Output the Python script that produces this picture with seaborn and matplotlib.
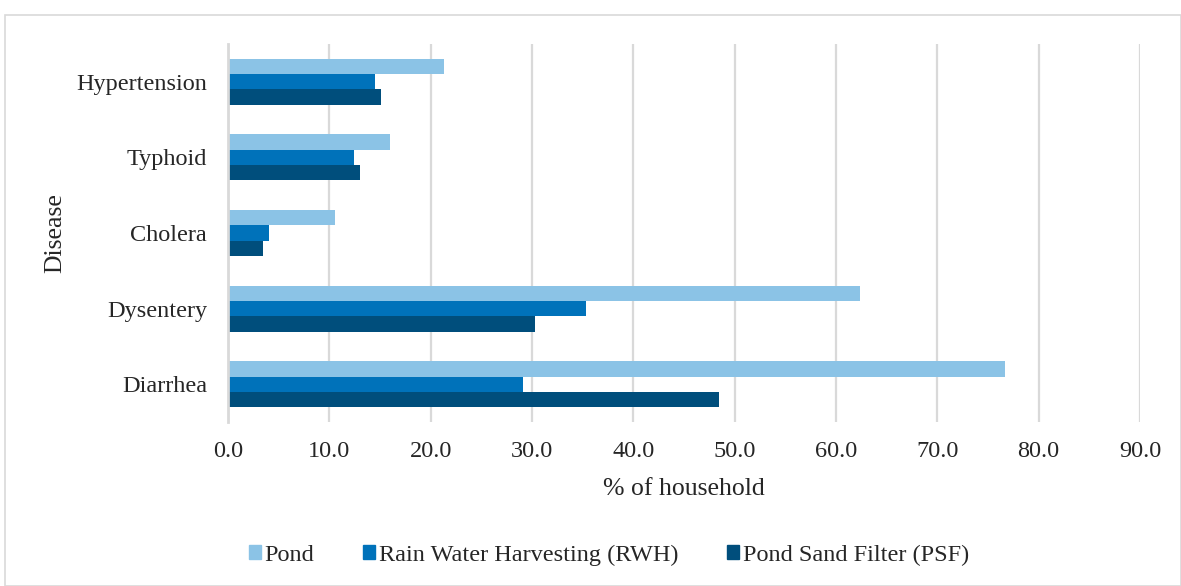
import pandas as pd
import matplotlib.pyplot as plt
import matplotlib.patches as mpatches
import seaborn as sns

# values (% of household)
diseases = ["Hypertension", "Typhoid", "Cholera", "Dysentery", "Diarrhea"]
sources = ["Pond", "Rain Water Harvesting (RWH)", "Pond Sand Filter (PSF)"]
pond = [21.3, 16.0, 10.6, 62.4, 76.7]
rwh = [14.5, 12.4, 4.0, 35.3, 29.1]
psf = [15.1, 13.0, 3.5, 30.3, 48.5]
xticks = [0, 10, 20, 30, 40, 50, 60, 70, 80, 90]
colors = ["#8BC3E6", "#0072BA", "#004E7C"]

df = pd.DataFrame({
    "Disease": diseases * 3,
    "Source": [s for s in sources for _ in diseases],
    "Value": pond + rwh + psf,
})

sns.set_style("white")
plt.rcParams["font.family"] = ["Liberation Serif", "DejaVu Serif"]

fig = plt.figure(figsize=(11.81, 5.86), dpi=100)
ax = fig.add_axes([228 / 1181, 1 - 422 / 586, (1140 - 228) / 1181, (422 - 44) / 586])

sns.barplot(
    data=df,
    y="Disease",
    x="Value",
    hue="Source",
    order=diseases,
    hue_order=sources,
    palette=colors,
    saturation=1,
    orient="h",
    width=0.61,
    linewidth=0,
    ax=ax,
)

ax.set_xlim(0, 90)
ax.set_ylim(4.5, -0.5)
ax.set_xticks(xticks)
ax.set_xticklabels([f"{v:.1f}" for v in xticks], fontsize=17.5)
ax.tick_params(axis="y", labelsize=17.5, length=0, pad=15)
ax.tick_params(axis="x", length=0, pad=14)
ax.xaxis.grid(True, color="#D9D9D9", linewidth=1.6)
ax.set_axisbelow(True)
for side in ["top", "right", "bottom"]:
    ax.spines[side].set_visible(False)
ax.spines["left"].set_color("#D9D9D9")
ax.spines["left"].set_linewidth(2)
ax.spines["left"].set_zorder(3)

ax.set_xlabel("% of household", fontsize=18.5)
ax.set_ylabel("Disease", fontsize=18.5)
ax.xaxis.set_label_coords(0.5, (422 - 489) / 378)
ax.xaxis.label.set_va("center")
ax.yaxis.set_label_coords((55 - 228) / 912, 0.5)
ax.yaxis.label.set_va("center")

ax.legend_.remove()
handles = [mpatches.Patch(color=c, label=s) for c, s in zip(colors, sources)]
fig.legend(
    handles=handles,
    loc="center",
    bbox_to_anchor=(609 / 1181, 1 - 555 / 586),
    ncol=3,
    frameon=False,
    fontsize=17.5,
    handlelength=0.5,
    handleheight=0.5,
    handletextpad=0.15,
    columnspacing=2.0,
)

# light outer border as in the reference
fig.patches.append(mpatches.Rectangle(
    (5 / 1181, 0), 1 - 5 / 1181, 1 - 15 / 586,
    transform=fig.transFigure, fill=False, edgecolor="#D9D9D9", linewidth=1.2,
))

fig.savefig("out.png", dpi=100)
